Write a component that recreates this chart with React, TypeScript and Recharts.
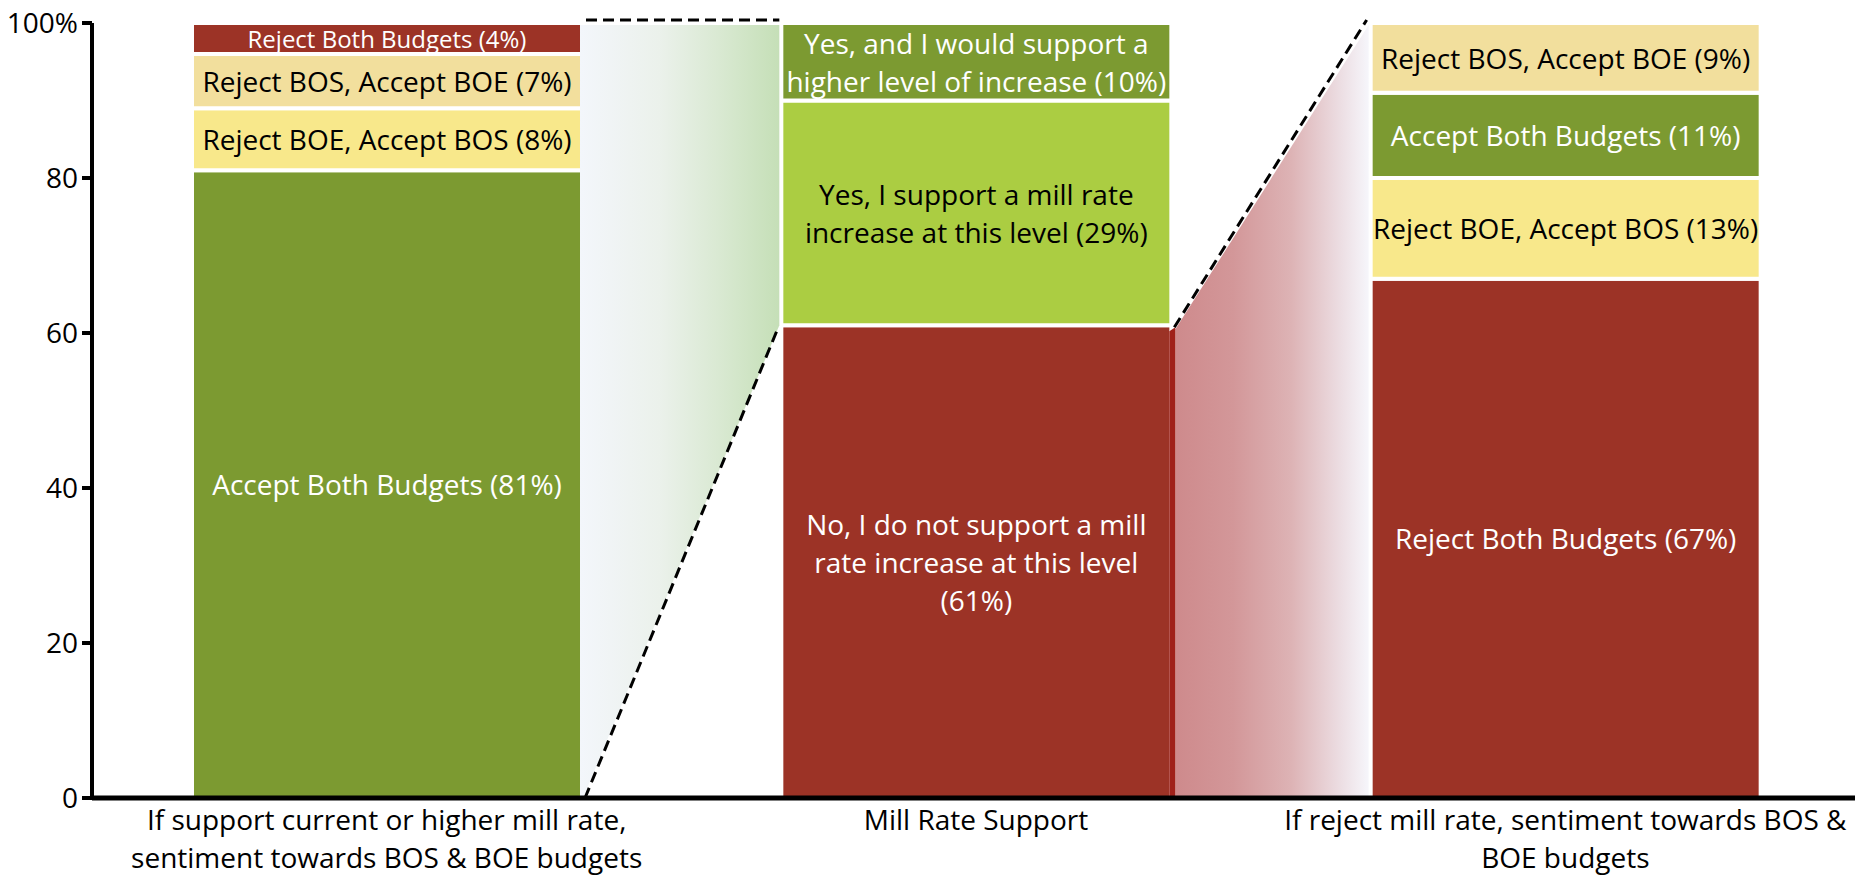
import React from "react";
import { BarChart, Bar, XAxis, YAxis } from "recharts";

// ---------- data ----------
const categoryKeys = ["supportBudgets", "millRate", "rejectBudgets"];
const categoryLines = [
  ["If support current or higher mill rate,", "sentiment towards BOS & BOE budgets"],
  ["Mill Rate Support"],
  ["If reject mill rate, sentiment towards BOS &", "BOE budgets"],
];

// segments listed bottom to top
const supportKinds = ["acceptBoth", "rejectBOE", "rejectBOS", "rejectBoth"];
const supportValues = [81, 8, 7, 4];
const millKinds = ["no", "yes", "yesHigher"];
const millValues = [61, 29, 10];
const rejectKinds = ["rejectBoth", "rejectBOE", "acceptBoth", "rejectBOS"];
const rejectValues = [67, 13, 11, 9];

const segmentNames: Record<string, string> = {
  acceptBoth: "Accept Both Budgets",
  rejectBOE: "Reject BOE, Accept BOS",
  rejectBOS: "Reject BOS, Accept BOE",
  rejectBoth: "Reject Both Budgets",
  no: "No, I do not support a mill\nrate increase at this level\n",
  yes: "Yes, I support a mill rate\nincrease at this level",
  yesHigher: "Yes, and I would support a\nhigher level of increase",
};

const yTicks = [0, 20, 40, 60, 80, 100];

// ---------- styles ----------
const FONT = "'Open Sans', 'DejaVu Sans', sans-serif";
const KIND_STYLE: Record<string, { fill: string; text: string }> = {
  acceptBoth: { fill: "#7C9A31", text: "#FFFFFF" },
  rejectBOE: { fill: "#F8E88B", text: "#000000" },
  rejectBOS: { fill: "#F2DF9D", text: "#000000" },
  rejectBoth: { fill: "#9C3326", text: "#FFFFFF" },
  no: { fill: "#9C3326", text: "#FFFFFF" },
  yes: { fill: "#ABCD42", text: "#000000" },
  yesHigher: { fill: "#7C9A31", text: "#FFFFFF" },
};

const allKinds = [supportKinds, millKinds, rejectKinds];
const allValues = [supportValues, millValues, rejectValues];
const SEG_COUNT = 4;

const data = categoryKeys.map((key, i) => {
  const row: any = { key, idx: i };
  for (let j = 0; j < SEG_COUNT; j++) {
    row["s" + j] = allValues[i][j] ?? 0;
    row["k" + j] = allKinds[i][j] ?? null;
  }
  return row;
});

// geometry collected from the bars as Recharts lays them out
const geo: Record<number, any> = {};

function labelText(kind: string, v: number) {
  const name = segmentNames[kind];
  const sep = name.endsWith("\n") ? "" : " ";
  return `${name}${sep}(${v}%)`.split("\n");
}

function Connectors() {
  const g0 = geo[0], g1 = geo[1], g2 = geo[2];
  if (!g0 || !g1 || !g2 || g0.segTop[3] == null || g1.segTop[0] == null) return null;
  const r0 = g0.x + g0.w;
  const l1 = g1.x;
  const r1 = g1.x + g1.w;
  const l2 = g2.x;
  const y0 = g0.bottom;
  const y100 = g0.segTop[3];
  const ySplit = g1.segTop[0];
  const dash = { stroke: "#000", strokeWidth: 3, strokeDasharray: "11 6", fill: "none" };
  return (
    <g>
      <defs>
        <linearGradient id="gLeft" x1="0" y1="0" x2="1" y2="0">
          <stop offset="0" stopColor="#F3F6FB" />
          <stop offset="0.4" stopColor="#EBF1EB" />
          <stop offset="0.7" stopColor="#D9E9D2" />
          <stop offset="1" stopColor="#C5DFB7" />
        </linearGradient>
        <linearGradient id="gRight" x1="0" y1="0" x2="1" y2="0">
          <stop offset="0" stopColor="#CE8A8C" />
          <stop offset="0.3" stopColor="#D39799" />
          <stop offset="0.6" stopColor="#DDB3B5" />
          <stop offset="0.85" stopColor="#ECDDE2" />
          <stop offset="1" stopColor="#F6F6FB" />
        </linearGradient>
      </defs>
      <polygon
        points={`${r0 - 2},${y100 + 2} ${l1 - 2},${y100 + 2} ${l1 - 2},${ySplit} ${r0 + 1},${y0} ${r0 - 2},${y0}`}
        fill="url(#gLeft)"
      />
      <line x1={r0 + 4} y1={y100 - 3} x2={l1 - 2} y2={y100 - 3} {...dash} />
      <line x1={r0 + 3} y1={y0} x2={l1 - 3} y2={ySplit + 2} {...dash} />

      <polygon
        points={`${r1 + 4},${ySplit + 4} ${l2 - 2},${y100 + 2} ${l2 - 2},${y0} ${r1 + 4},${y0}`}
        fill="url(#gRight)"
      />
      <polygon
        points={`${r1 - 2},${ySplit + 6} ${r1 + 4},${ySplit + 2} ${r1 + 4},${y0} ${r1 - 2},${y0}`}
        fill="#A0211A"
      />
      <line x1={r1 + 3} y1={ySplit + 2} x2={l2 - 4} y2={y100 - 3} {...dash} />
    </g>
  );
}

function Segment(props: any) {
  const { x, y, width, height, payload, seg } = props;
  const i = payload?.idx;
  const kind = payload?.["k" + seg];
  const v = payload?.["s" + seg];
  if (i == null || !kind || !v || !(height > 0)) {
    return <g />;
  }
  if (!geo[i]) geo[i] = { segTop: [] };
  geo[i].x = x;
  geo[i].w = width;
  geo[i].segTop[seg] = y;
  if (seg === 0) geo[i].bottom = y + height;

  const st = KIND_STYLE[kind];
  const lines = labelText(kind, v);
  const fs = v < 5 ? 24 : 28;
  const lh = 38;
  const cx = x + width / 2;
  const cy = y + height / 2;
  const startY = cy - ((lines.length - 1) * lh) / 2;
  const isLast = seg === SEG_COUNT - 1 && i === categoryKeys.length - 1;
  return (
    <g>
      <rect x={x} y={y} width={width} height={height} fill={st.fill} stroke="#FFFFFF" strokeWidth={4} />
      <text x={cx} textAnchor="middle" fill={st.text} fontFamily={FONT} fontSize={fs}>
        {lines.map((ln, k) => (
          <tspan key={k} x={cx} y={startY + k * lh} dominantBaseline="central">
            {ln}
          </tspan>
        ))}
      </text>
      {isLast ? <Connectors /> : null}
    </g>
  );
}

function CategoryTick(props: any) {
  const { x, y, payload } = props;
  const i = categoryKeys.indexOf(payload.value);
  const lines = categoryLines[i] || [];
  return (
    <text textAnchor="middle" fill="#000" fontFamily={FONT} fontSize={28}>
      {lines.map((ln, k) => (
        <tspan key={k} x={x} y={y + 32 + k * 38}>
          {ln}
        </tspan>
      ))}
    </text>
  );
}

export default function App() {
  return (
    <div
      style={{
        position: "absolute",
        left: 0,
        top: 0,
        width: 1855,
        height: 886,
        overflow: "hidden",
        background: "#FFFFFF",
        fontFamily: FONT,
      }}
    >
      <BarChart
        width={1860}
        height={886}
        data={data}
        margin={{ top: 23, right: 0, bottom: 0, left: 0 }}
        barSize={390}
      >
        <XAxis
          dataKey="key"
          axisLine={{ stroke: "#000", strokeWidth: 5 }}
          tickLine={false}
          tickSize={0}
          tickMargin={0}
          height={88}
          interval={0}
          tick={<CategoryTick />}
        />
        <YAxis
          domain={[0, 100]}
          ticks={yTicks}
          interval={0}
          width={92}
          axisLine={{ stroke: "#000", strokeWidth: 4 }}
          tickLine={{ stroke: "#000", strokeWidth: 4 }}
          tickSize={10}
          tickMargin={4}
          tickFormatter={(v: number) => (v === 100 ? "100%" : String(v))}
          tick={{ fill: "#000", fontSize: 28, fontFamily: FONT }}
        />
        {[0, 1, 2, 3].map((j) => (
          <Bar
            key={j}
            dataKey={"s" + j}
            stackId="a"
            isAnimationActive={false}
            shape={(p: any) => <Segment {...p} seg={j} />}
          />
        ))}
      </BarChart>
    </div>
  );
}
